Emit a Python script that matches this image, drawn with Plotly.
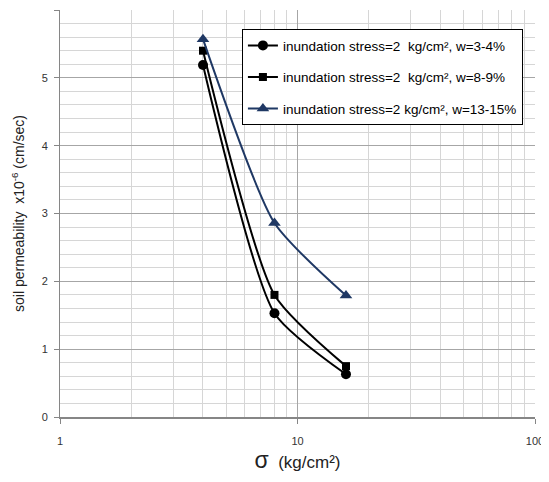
import plotly.graph_objects as go

stress = [4, 8, 16]
perm_w3_4 = [5.19, 1.53, 0.63]
perm_w8_9 = [5.40, 1.80, 0.75]
perm_w13_15 = [5.57, 2.86, 1.79]

names = [
    "inundation stress=2  kg/cm², w=3-4%",
    "inundation stress=2  kg/cm², w=8-9%",
    "inundation stress=2 kg/cm², w=13-15%",
]

navy = "#1f3864"
fig = go.Figure()
series = [
    (perm_w3_4, "black", "circle", 10),
    (perm_w8_9, "black", "square", 8),
    (perm_w13_15, navy, "triangle-up", 11),
]
for i, (ys, col, sym, sz) in enumerate(series):
    fig.add_trace(go.Scatter(
        x=stress, y=ys, name=names[i], legendgroup=f"g{i}",
        mode="lines+markers",
        line=dict(color=col, width=2, shape="spline", smoothing=0.6),
        marker=dict(color=col, symbol=sym, size=sz),
    ))

minor_x = [v * m for m in (1, 10) for v in range(2, 10)]

fig.update_layout(
    width=541, height=466,
    margin=dict(l=52, r=14, t=2, b=57, autoexpand=False),
    paper_bgcolor="white", plot_bgcolor="white",
    font=dict(family="Liberation Sans, Arial, sans-serif", color="#333333"),
    showlegend=True,
    legend=dict(
        x=0.383, y=0.953, xanchor="left", yanchor="top",
        bgcolor="white", bordercolor="black", borderwidth=1,
        font=dict(size=13.5, color="black", family="Liberation Sans, Arial, sans-serif"),
        tracegroupgap=11, itemwidth=30,
    ),
    xaxis=dict(
        type="log", range=[0, 2], automargin=False,
        tickvals=[1, 10, 100], ticktext=["1", "10", "100"],
        ticks="outside", ticklen=5, tickcolor="#868686",
        ticklabelstandoff=8,
        tickfont=dict(size=11, color="#333333"),
        showgrid=True, gridcolor="#a6a6a6", gridwidth=1,
        minor=dict(tickvals=minor_x, showgrid=True, gridcolor="#d6d6d6", ticks=""),
        showline=True, linecolor="#868686", linewidth=2,
        zeroline=False,
        title=dict(
            text='<span style="font-size:23px">σ</span>  (kg/cm²)',
            font=dict(size=17, color="#222222"),
            standoff=9,
        ),
    ),
    yaxis=dict(
        range=[0, 6], dtick=1, automargin=False,
        ticks="outside", ticklen=5, tickcolor="#868686",
        ticklabelstandoff=4,
        tickfont=dict(size=11, color="#333333"),
        showgrid=True, gridcolor="#a6a6a6", gridwidth=1,
        minor=dict(dtick=0.2, showgrid=True, gridcolor="#d6d6d6", ticks=""),
        showline=True, linecolor="#868686", linewidth=1,
        zeroline=False,
        title=dict(
            text="soil permeability  x10<sup>-6</sup> (cm/sec)",
            font=dict(size=14, color="#222222"),
            standoff=13,
        ),
    ),
)

fig.write_html("out.html")
